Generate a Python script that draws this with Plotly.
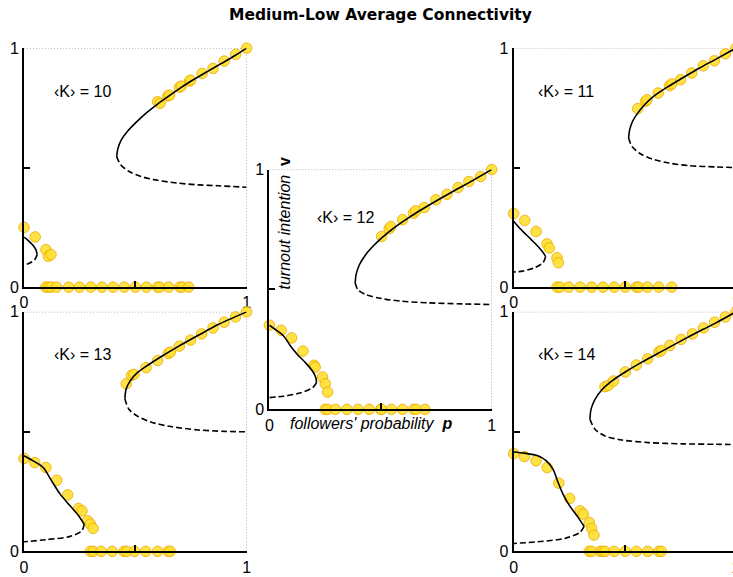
import plotly.graph_objects as go

# ---------------------------------------------------------------------------
# Data: simulation points (p, v) and mean-field branches for each <K>
# ---------------------------------------------------------------------------
K_VALUES = [10, 11, 12, 13, 14]

# simulation results: followers' probability p vs turnout intention v
K10_sim = [(0.0, 0.25), (0.05, 0.21), (0.098, 0.157), (0.109, 0.129), (0.121, 0.136),
           (0.098, 0.0), (0.109, 0.0), (0.121, 0.0), (0.146, 0.0), (0.2, 0.0), (0.249, 0.0),
           (0.30, 0.0), (0.35, 0.0), (0.40, 0.0), (0.45, 0.0), (0.50, 0.0), (0.55, 0.0),
           (0.60, 0.0), (0.61, 0.0), (0.65, 0.0), (0.70, 0.0), (0.71, 0.0), (0.74, 0.0),
           (0.60, 0.776), (0.611, 0.769), (0.646, 0.80), (0.654, 0.803), (0.698, 0.836),
           (0.706, 0.841), (0.744, 0.862), (0.748, 0.866), (0.80, 0.894), (0.849, 0.915),
           (0.899, 0.946), (0.951, 0.974), (1.0, 1.0)]
K11_sim = [(0.0, 0.308), (0.05, 0.279), (0.101, 0.233), (0.15, 0.181), (0.16, 0.164),
           (0.195, 0.123), (0.201, 0.102),
           (0.195, 0.0), (0.209, 0.0), (0.248, 0.0), (0.299, 0.0), (0.351, 0.0), (0.402, 0.0),
           (0.452, 0.0), (0.502, 0.0), (0.552, 0.0), (0.562, 0.0), (0.602, 0.0), (0.653, 0.0),
           (0.711, 0.0),
           (0.558, 0.747), (0.593, 0.777), (0.600, 0.784), (0.650, 0.812), (0.701, 0.843),
           (0.711, 0.850), (0.751, 0.868), (0.801, 0.896), (0.853, 0.926), (0.903, 0.947),
           (0.952, 0.976), (1.0, 1.0)]
K12_sim = [(0.0, 0.351), (0.053, 0.330), (0.100, 0.298), (0.151, 0.243), (0.201, 0.184),
           (0.206, 0.176), (0.239, 0.135), (0.251, 0.107), (0.262, 0.072),
           (0.251, 0.0), (0.262, 0.0), (0.297, 0.0), (0.349, 0.0), (0.399, 0.0), (0.449, 0.0),
           (0.501, 0.0), (0.504, 0.0), (0.549, 0.0), (0.599, 0.0), (0.649, 0.0), (0.661, 0.0),
           (0.700, 0.0),
           (0.505, 0.721), (0.539, 0.753), (0.546, 0.763), (0.599, 0.791), (0.648, 0.818),
           (0.658, 0.828), (0.697, 0.842), (0.749, 0.874), (0.799, 0.897), (0.849, 0.925),
           (0.897, 0.950), (0.950, 0.971), (1.0, 1.0)]
K13_sim = [(0.0, 0.388), (0.048, 0.371), (0.098, 0.35), (0.147, 0.297), (0.196, 0.236),
           (0.245, 0.179), (0.260, 0.169), (0.286, 0.128), (0.298, 0.114), (0.310, 0.096),
           (0.298, 0.0), (0.310, 0.0), (0.346, 0.0), (0.396, 0.0), (0.449, 0.0), (0.461, 0.0),
           (0.497, 0.0), (0.547, 0.0), (0.600, 0.0), (0.648, 0.0), (0.657, 0.0),
           (0.459, 0.70), (0.483, 0.735), (0.494, 0.739), (0.548, 0.767), (0.600, 0.797),
           (0.648, 0.826), (0.657, 0.832), (0.698, 0.857), (0.748, 0.882), (0.798, 0.908),
           (0.849, 0.933), (0.899, 0.957), (0.950, 0.979), (1.0, 1.0)]
K14_sim = [(0.0, 0.408), (0.048, 0.396), (0.101, 0.378), (0.151, 0.35), (0.203, 0.285),
           (0.252, 0.221), (0.299, 0.169), (0.313, 0.156), (0.340, 0.121), (0.351, 0.096),
           (0.361, 0.068),
           (0.340, 0.0), (0.351, 0.0), (0.389, 0.0), (0.401, 0.0), (0.411, 0.0), (0.452, 0.0),
           (0.502, 0.0), (0.552, 0.0), (0.603, 0.0), (0.653, 0.0), (0.664, 0.0),
           (0.411, 0.6875), (0.426, 0.693), (0.449, 0.711), (0.502, 0.749), (0.552, 0.778),
           (0.603, 0.804), (0.653, 0.833), (0.664, 0.839), (0.703, 0.860), (0.753, 0.885),
           (0.804, 0.908), (0.854, 0.933), (0.904, 0.957), (0.952, 0.979), (1.0, 1.0)]

# high-turnout branch, stable part (solid)
K10_hi_stable = [(0.416, 0.546), (0.422, 0.581), (0.437, 0.616), (0.464, 0.651), (0.502, 0.688),
                 (0.547, 0.727), (0.600, 0.766), (0.653, 0.801), (0.706, 0.836), (0.766, 0.871),
                 (0.827, 0.904), (0.887, 0.936), (0.948, 0.969), (1.0, 1.0)]
K11_hi_stable = [(0.517, 0.624), (0.522, 0.659), (0.535, 0.694), (0.558, 0.728), (0.593, 0.767),
                 (0.638, 0.804), (0.691, 0.837), (0.759, 0.875), (0.834, 0.916), (0.910, 0.954),
                 (1.0, 1.0)]
K12_hi_stable = [(0.386, 0.527), (0.390, 0.562), (0.405, 0.603), (0.433, 0.645), (0.466, 0.680),
                 (0.504, 0.714), (0.549, 0.749), (0.602, 0.784), (0.670, 0.825), (0.746, 0.867),
                 (0.837, 0.915), (0.912, 0.953), (1.0, 1.0)]
K13_hi_stable = [(0.453, 0.6375), (0.458, 0.676), (0.476, 0.711), (0.509, 0.746), (0.554, 0.776),
                 (0.615, 0.8125), (0.690, 0.854), (0.781, 0.901), (0.872, 0.947), (1.0, 1.0)]
K14_hi_stable = [(0.343, 0.551), (0.348, 0.593), (0.366, 0.635), (0.396, 0.674), (0.441, 0.711),
                 (0.502, 0.749), (0.577, 0.790), (0.668, 0.836), (0.759, 0.882), (0.850, 0.926),
                 (0.910, 0.954), (1.0, 1.0)]

# high-turnout branch, unstable part (dashed)
K10_hi_unstable = [(0.416, 0.546), (0.434, 0.512), (0.472, 0.484), (0.525, 0.463), (0.600, 0.447),
                   (0.691, 0.435), (0.782, 0.428), (0.872, 0.424), (1.0, 0.418)]
K11_hi_unstable = [(0.517, 0.624), (0.532, 0.589), (0.570, 0.558), (0.623, 0.536), (0.698, 0.519),
                   (0.789, 0.508), (0.910, 0.503), (1.0, 0.500)]
K12_hi_unstable = [(0.386, 0.527), (0.398, 0.499), (0.436, 0.478), (0.504, 0.462), (0.595, 0.451),
                   (0.716, 0.444), (0.867, 0.440), (1.0, 0.437)]
K13_hi_unstable = [(0.453, 0.6375), (0.471, 0.593), (0.509, 0.565), (0.569, 0.540), (0.660, 0.521),
                   (0.781, 0.507), (0.902, 0.501), (1.0, 0.499)]
K14_hi_unstable = [(0.343, 0.551), (0.366, 0.510), (0.411, 0.482), (0.487, 0.465), (0.608, 0.454),
                   (0.759, 0.449), (0.910, 0.447), (1.0, 0.446)]

# low-turnout branch, stable part (solid)
K10_lo_stable = [(0.0, 0.209), (0.018, 0.196), (0.038, 0.177), (0.053, 0.157), (0.059, 0.136)]
K11_lo_stable = [(0.0, 0.276), (0.033, 0.241), (0.079, 0.199), (0.116, 0.164), (0.139, 0.136),
                 (0.144, 0.127)]
K12_lo_stable = [(0.0, 0.351), (0.027, 0.333), (0.065, 0.305), (0.095, 0.264), (0.126, 0.229),
                 (0.163, 0.194), (0.194, 0.160), (0.209, 0.132), (0.212, 0.111)]
K13_lo_stable = [(0.0, 0.399), (0.041, 0.378), (0.086, 0.35), (0.124, 0.294), (0.162, 0.239),
                 (0.207, 0.190), (0.245, 0.149), (0.270, 0.114)]
K14_lo_stable = [(0.0, 0.415), (0.048, 0.410), (0.109, 0.399), (0.147, 0.378), (0.177, 0.343),
                 (0.200, 0.2875), (0.222, 0.239), (0.252, 0.190), (0.290, 0.142), (0.317, 0.104)]

# low-turnout branch, unstable part (dashed)
K10_lo_unstable = [(0.059, 0.136), (0.048, 0.115), (0.026, 0.101), (0.0, 0.091)]
K11_lo_unstable = [(0.144, 0.127), (0.132, 0.102), (0.094, 0.081), (0.041, 0.067), (0.0, 0.063)]
K12_lo_unstable = [(0.212, 0.111), (0.194, 0.090), (0.141, 0.069), (0.065, 0.055), (0.0, 0.049)]
K13_lo_unstable = [(0.270, 0.114), (0.260, 0.086), (0.207, 0.0625), (0.101, 0.049), (0.0, 0.040)]
K14_lo_unstable = [(0.317, 0.104), (0.298, 0.079), (0.230, 0.054), (0.109, 0.040), (0.0, 0.033)]

TICK_VALS = [0, 1]
TICK_TEXT = ["0", "1"]

# ---------------------------------------------------------------------------
# Canvas geometry.  Positions below are screen pixels of the finished view;
# they are mapped onto the figure, which sits inside the page body's 8px
# margin and is shown at a slightly reduced scale.
# ---------------------------------------------------------------------------
VIEW_W, VIEW_H, BODY_PAD = 733, 577, 8
SCALE_X = VIEW_W / (VIEW_W + 2 * BODY_PAD)
SCALE_Y = VIEW_H / (VIEW_H + 2 * BODY_PAD)
FIG_W = round(VIEW_W / SCALE_X - BODY_PAD)
FIG_H = round(VIEW_H / SCALE_Y - BODY_PAD)


def fx(px):
    """screen x pixel -> paper fraction"""
    return (px / SCALE_X - BODY_PAD) / FIG_W


def fy(py):
    """screen y pixel -> paper fraction"""
    return 1 - (py / SCALE_Y - BODY_PAD) / FIG_H


LEFT_X = (27.7, 248.2)
MID_X = (270.7, 491.0)
RIGHT_X = (512.7, 733.0)
TOP_Y = (287.5, 48.0)
MID_Y = (410.0, 169.7)
BOT_Y = (552.3, 312.3)


def clamp(v):
    return max(0.0, min(1.0, v))


panels = [
    dict(K=10, sim=K10_sim, hs=K10_hi_stable, hu=K10_hi_unstable, ls=K10_lo_stable, lu=K10_lo_unstable,
         xs=LEFT_X, ys=TOP_Y, lab=(0.124, 0.82)),
    dict(K=11, sim=K11_sim, hs=K11_hi_stable, hu=K11_hi_unstable, ls=K11_lo_stable, lu=K11_lo_unstable,
         xs=RIGHT_X, ys=TOP_Y, lab=(0.101, 0.818)),
    dict(K=12, sim=K12_sim, hs=K12_hi_stable, hu=K12_hi_unstable, ls=K12_lo_stable, lu=K12_lo_unstable,
         xs=MID_X, ys=MID_Y, lab=(0.206, 0.80)),
    dict(K=13, sim=K13_sim, hs=K13_hi_stable, hu=K13_hi_unstable, ls=K13_lo_stable, lu=K13_lo_unstable,
         xs=LEFT_X, ys=BOT_Y, lab=(0.124, 0.822)),
    dict(K=14, sim=K14_sim, hs=K14_hi_stable, hu=K14_hi_unstable, ls=K14_lo_stable, lu=K14_lo_unstable,
         xs=RIGHT_X, ys=BOT_Y, lab=(0.101, 0.822)),
]

FONT = "Liberation Sans, Arial, Helvetica, sans-serif"
MARKER_FILL = "#FFE033"
MARKER_EDGE = "#EFAF00"


def unzip(points):
    return [pt[0] for pt in points], [pt[1] for pt in points]


fig = go.Figure()
shapes = []
annotations = []

for i, pan in enumerate(panels, start=1):
    sfx = "" if i == 1 else str(i)
    xa, ya = "x" + sfx, "y" + sfx

    px, pv = unzip(pan["sim"])
    fig.add_trace(go.Scatter(
        x=px, y=pv, xaxis=xa, yaxis=ya, mode="markers", cliponaxis=False,
        marker=dict(size=10.5, color=MARKER_FILL, opacity=0.9,
                    line=dict(color=MARKER_EDGE, width=1)),
        showlegend=False, hoverinfo="skip"))

    for key, dash in (("hs", "solid"), ("hu", "6px,3px"), ("ls", "solid"), ("lu", "6px,3px")):
        cx, cy = unzip(pan[key])
        fig.add_trace(go.Scatter(
            x=cx, y=cy, xaxis=xa, yaxis=ya, mode="lines",
            line=dict(color="black", width=1.6, dash=dash, shape="spline", smoothing=0.8),
            showlegend=False, hoverinfo="skip"))

    axis_common = dict(
        range=[0, 1], showgrid=False, zeroline=False, showline=True,
        linecolor="black", linewidth=2, tickmode="array",
        tickvals=TICK_VALS, ticktext=TICK_TEXT, ticks="",
        tickfont=dict(family=FONT, size=16, color="black"),
        minor=dict(tickmode="array", tickvals=[0.5], ticks="inside",
                   ticklen=6, tickwidth=1.5, tickcolor="black"),
        fixedrange=True)
    fig.layout["xaxis" + sfx] = dict(
        domain=[clamp(fx(pan["xs"][0])), clamp(fx(pan["xs"][1]))], anchor=ya, **axis_common)
    fig.layout["yaxis" + sfx] = dict(
        domain=[clamp(fy(pan["ys"][0])), clamp(fy(pan["ys"][1]))], anchor=xa, **axis_common)

    # dotted frame along v = 1 and p = 1
    for x0, y0, x1, y1 in ((0, 1, 1, 1), (1, 0, 1, 1)):
        shapes.append(dict(type="line", xref=xa, yref=ya, x0=x0, y0=y0, x1=x1, y1=y1,
                           line=dict(color="#777777", width=1, dash="1px,2px"),
                           layer="below"))

    annotations.append(dict(
        xref=xa, yref=ya, x=pan["lab"][0], y=pan["lab"][1], xanchor="left",
        yanchor="middle", showarrow=False, text=f"‹K› = {pan['K']}",
        font=dict(family=FONT, size=16, color="black")))

# axis titles of the central panel
annotations.append(dict(
    xref="paper", yref="paper", x=fx(286), y=fy(223), textangle=-90, showarrow=False,
    xanchor="center", yanchor="middle",
    text="<i>turnout intention</i>\u00a0\u00a0<b>v</b>",
    font=dict(family=FONT, size=16, color="black")))
annotations.append(dict(
    xref="paper", yref="paper", x=fx(371.5), y=fy(424), showarrow=False,
    xanchor="center", yanchor="middle",
    text="<i>followers' probability</i>\u00a0\u00a0<b><i>p</i></b>",
    font=dict(family=FONT, size=16, color="black")))

# figure title
annotations.append(dict(
    xref="paper", yref="paper", x=fx(381), y=fy(15), showarrow=False,
    xanchor="center", yanchor="middle",
    text="<b>Medium-Low Average Connectivity</b>",
    font=dict(family="DejaVu Sans, sans-serif", size=15.5, color="black")))

fig.update_layout(
    width=FIG_W, height=FIG_H, margin=dict(l=0, r=0, t=0, b=0),
    paper_bgcolor="white", plot_bgcolor="white",
    shapes=shapes, annotations=annotations, showlegend=False)

fig.write_html("out.html")
